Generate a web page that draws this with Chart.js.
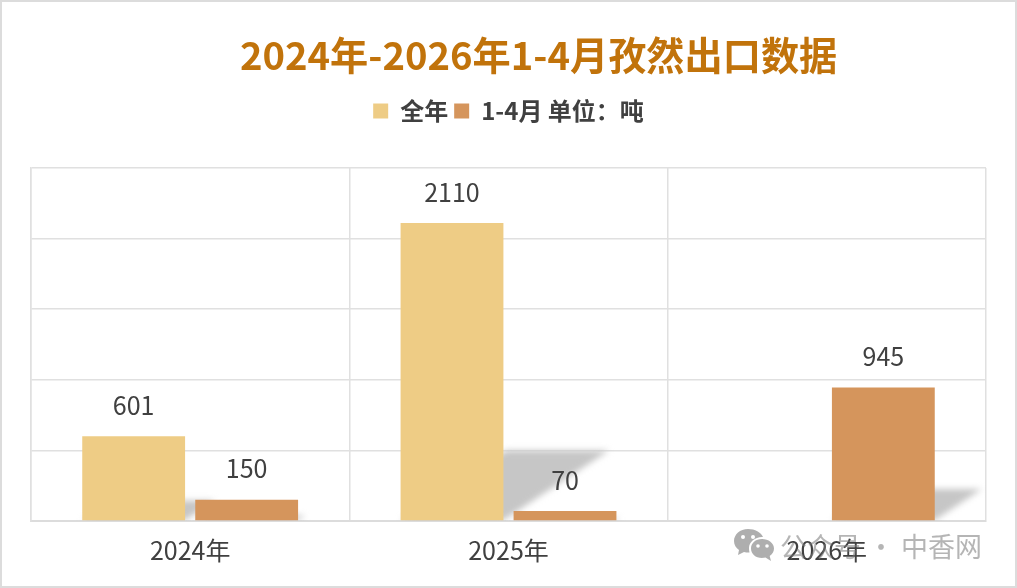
<!DOCTYPE html>
<html lang="zh">
<head>
<meta charset="utf-8">
<title>孜然出口数据</title>
<script src="https://cdn.jsdelivr.net/npm/chart.js@4"></script>
<style>
  html, body { margin: 0; padding: 0; background: #fff; }
  #frame { position: relative; width: 1017px; height: 588px; box-sizing: border-box; overflow: hidden; }
  #frame::after { content: ''; position: absolute; inset: 0; border: 2px solid #dcdcdc; pointer-events: none; }
  #myChart { position: absolute; left: 0; top: 0; }
  #titulo { position: absolute; left: 240px; top: 27px; margin: 0; white-space: nowrap;
            font: bold 38.2px "Noto Sans CJK SC", sans-serif; line-height: 54px; color: #c1730b; }
  #marca { position: absolute; left: 733px; top: 526px; display: flex; align-items: center; gap: 6px;
           font: 27px "Noto Sans CJK SC", sans-serif; word-spacing: 0.5px; color: rgba(120,120,120,.55); white-space: nowrap; }
</style>
</head>
<body>
<div id="frame">
  <canvas id="myChart" width="1017" height="588"></canvas>
  <h1 id="titulo">2024年-2026年1-4月孜然出口数据</h1>
  <div id="marca">
    <svg width="41" height="36" viewBox="0 0 41 36">
      <path d="M15 1C7 1 1 6.500 1 13c0 4 2 7 5 9l-1 5 6-3c1.500 .4 3 .5 4 .5 .5 0 1 0 1.500 -.1C16 22 16 21 16 20c0-6 6-11 13-11h1C28 4.500 22 1 15 1z" fill="rgba(120,120,120,.6)"/>
      <path d="M29 11c-6.500 0-11 4.200-11 9.500S22.500 30 29 30c1.300 0 2.500-.2 3.500-.5L38 33l-1.300-5c2.600-1.800 4.300-4.300 4.300-7.500C41 15.200 35.500 11 29 11z" fill="rgba(120,120,120,.6)"/>
      <circle cx="10" cy="9" r="2" fill="#fff"/><circle cx="20" cy="9" r="2" fill="#fff"/>
      <circle cx="25" cy="18" r="1.800" fill="#fff"/><circle cx="34" cy="18" r="1.800" fill="#fff"/>
    </svg>
    <span>公众号&nbsp;·&nbsp;中香网</span>
  </div>
</div>
<script>
// Datos
const categorias = ['2024年', '2025年', '2026年'];
const valoresAnual = [601, 2110, null];
const valoresEneAbr = [150, 70, 945];
const nombreAnual = '全年';
const nombreEneAbr = '1-4月 单位：吨';

const colorTexto = '#404040';
const colorRejilla = '#e0e0e0';
const fuente = '"Noto Sans CJK SC", sans-serif';

// Más aire debajo de la leyenda
const espacioLeyenda = {
  id: 'espacioLeyenda',
  beforeInit(chart) {
    const fitOriginal = chart.legend.fit;
    chart.legend.fit = function () {
      fitOriginal.call(this);
      this.height += 35;
    };
  }
};

// Sombra sesgada detrás de cada barra, como en la plantilla original
const sombraBarras = {
  id: 'sombraBarras',
  beforeDatasetsDraw(chart) {
    const ctx = chart.ctx;
    const area = chart.chartArea;
    ctx.save();
    ctx.beginPath();
    ctx.rect(area.left, area.top, area.right - area.left, area.bottom - area.top);
    ctx.clip();
    ctx.filter = 'blur(3px)';
    ctx.fillStyle = '#c6c6c6';
    chart.data.datasets.forEach((ds, i) => {
      chart.getDatasetMeta(i).data.forEach((bar, j) => {
        if (ds.data[j] == null) return;
        const alto = bar.base - bar.y;
        const h = alto * 0.235;
        const d = alto * 0.355;
        const izq = bar.x - bar.width / 2;
        const der = bar.x + bar.width / 2;
        ctx.beginPath();
        ctx.moveTo(izq, bar.base);
        ctx.lineTo(der, bar.base);
        ctx.lineTo(der + d, bar.base - h);
        ctx.lineTo(izq + d, bar.base - h);
        ctx.closePath();
        ctx.fill();
      });
    });
    ctx.restore();
  }
};

// Etiquetas de valor encima de cada barra
const etiquetasValor = {
  id: 'etiquetasValor',
  afterDatasetsDraw(chart) {
    const ctx = chart.ctx;
    ctx.save();
    ctx.font = `25px ${fuente}`;
    ctx.fillStyle = colorTexto;
    ctx.textAlign = 'center';
    ctx.textBaseline = 'middle';
    chart.data.datasets.forEach((ds, i) => {
      chart.getDatasetMeta(i).data.forEach((bar, j) => {
        if (ds.data[j] == null) return;
        ctx.fillText(String(ds.data[j]), bar.x, bar.y - 31);
      });
    });
    ctx.restore();
  }
};

new Chart(document.getElementById('myChart'), {
  type: 'bar',
  data: {
    labels: categorias,
    datasets: [
      { label: nombreAnual, data: valoresAnual, backgroundColor: '#eecc85' },
      { label: nombreEneAbr, data: valoresEneAbr, backgroundColor: '#d5955c' }
    ]
  },
  options: {
    responsive: false,
    animation: false,
    categoryPercentage: 0.71,
    barPercentage: 0.91,
    layout: { padding: { left: 31, right: 31, top: 93, bottom: 0 } },
    plugins: {
      tooltip: { enabled: false },
      title: { display: false },
      legend: {
        position: 'top',
        labels: {
          boxWidth: 15,
          boxHeight: 15,
          padding: 6,
          color: colorTexto,
          font: { family: fuente, size: 24, weight: 'bold' }
        }
      }
    },
    scales: {
      x: {
        grid: { color: colorRejilla, lineWidth: 1.5, drawTicks: false },
        border: { color: '#dcdcdc', width: 2 },
        ticks: { color: colorTexto, font: { family: fuente, size: 25 }, padding: 14 },
        afterFit(scale) { scale.height = 67; }
      },
      y: {
        min: 0,
        max: 2500,
        grid: { color: colorRejilla, lineWidth: 1.5, drawTicks: false },
        border: { color: colorRejilla, width: 1.5 },
        ticks: { stepSize: 500, display: false },
        afterFit(scale) { scale.width = 0; }
      }
    }
  },
  plugins: [espacioLeyenda, sombraBarras, etiquetasValor]
});
</script>
</body>
</html>
